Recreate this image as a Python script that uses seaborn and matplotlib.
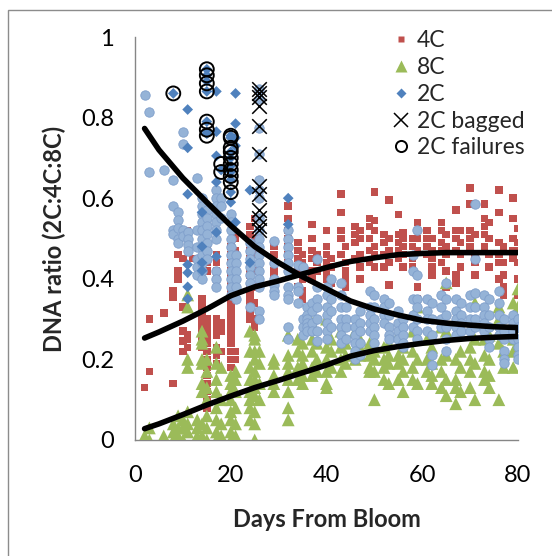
import matplotlib
matplotlib.use("Agg")
import matplotlib.pyplot as plt
from matplotlib.lines import Line2D
from matplotlib.patches import Rectangle
import seaborn as sns
import pandas as pd

# ---------------- data ----------------
c4 = {2: [0.13], 3: [0.30, 0.17], 6: [0.315], 8: [0.14, 0.37, 0.355],
      9: [0.46, 0.42, 0.40], 10: [0.45, 0.33, 0.27, 0.245, 0.22],
      11: [0.52, 0.26, 0.25, 0.23], 12: [0.45],
      14: [0.35, 0.33, 0.31, 0.29, 0.27, 0.25, 0.23],
      15: [0.48, 0.46, 0.44, 0.42, 0.30, 0.28, 0.26, 0.24, 0.22, 0.20, 0.18, 0.16, 0.14, 0.12, 0.10, 0.08],
      17: [0.46, 0.44, 0.42, 0.40, 0.30, 0.28, 0.26, 0.23, 0.21, 0.19],
      18: [0.29, 0.27, 0.22],
      20: [0.48, 0.46, 0.44, 0.42, 0.40, 0.38, 0.36, 0.34, 0.32, 0.30, 0.28, 0.26, 0.24, 0.22, 0.20, 0.18],
      21: [0.51, 0.50, 0.47, 0.44, 0.22, 0.20],
      24: [0.53, 0.51, 0.49, 0.47, 0.45, 0.43, 0.41, 0.38, 0.36, 0.34, 0.32, 0.30],
      25: [0.55, 0.50, 0.46, 0.42, 0.38, 0.34, 0.30, 0.28],
      29: [0.48, 0.46, 0.44, 0.42, 0.40],
      32: [0.58, 0.55, 0.52, 0.50, 0.48, 0.46, 0.44],
      34: [0.49, 0.47, 0.45, 0.42, 0.38], 35: [0.46, 0.44, 0.40, 0.37, 0.35],
      37: [0.535, 0.50, 0.47, 0.45, 0.42, 0.40], 38: [0.46, 0.44, 0.42],
      40: [0.52, 0.48, 0.46, 0.44, 0.42, 0.40], 41: [0.45, 0.43, 0.39],
      43: [0.61, 0.565, 0.52, 0.50, 0.46], 44: [0.48, 0.44, 0.42, 0.40, 0.38],
      46: [0.53, 0.51, 0.49, 0.45], 47: [0.52, 0.50, 0.46, 0.43, 0.40],
      49: [0.55, 0.53, 0.50, 0.47, 0.44], 50: [0.615, 0.545, 0.52, 0.48, 0.46, 0.43],
      52: [0.51, 0.49, 0.46, 0.43], 53: [0.595, 0.50, 0.47, 0.44, 0.385],
      55: [0.56, 0.51, 0.49, 0.47, 0.45], 56: [0.515, 0.50, 0.48, 0.46, 0.43],
      58: [0.50, 0.48, 0.45, 0.43], 59: [0.54, 0.52, 0.50, 0.47, 0.38, 0.35],
      61: [0.52, 0.50, 0.48, 0.46], 62: [0.50, 0.47, 0.45, 0.43, 0.41],
      64: [0.54, 0.52, 0.49, 0.47, 0.44], 65: [0.51, 0.48, 0.46, 0.42, 0.38],
      67: [0.57, 0.52, 0.50, 0.47, 0.41, 0.39], 68: [0.52, 0.49, 0.46, 0.43],
      70: [0.625, 0.585, 0.52, 0.50, 0.48], 71: [0.51, 0.46, 0.44, 0.41],
      73: [0.585, 0.55, 0.53, 0.51, 0.48], 74: [0.54, 0.50, 0.46, 0.43],
      76: [0.62, 0.565, 0.49, 0.46, 0.44, 0.40], 77: [0.48, 0.44, 0.41, 0.38, 0.36],
      79: [0.60, 0.55, 0.50, 0.47, 0.45], 80: [0.525, 0.49, 0.47, 0.44, 0.40, 0.36]}

c8 = {2: [0.0, 0.01], 3: [0.03, 0.0], 6: [0.01], 8: [0.0, 0.04, 0.02],
      9: [0.06, 0.03, 0.01], 10: [0.05, 0.03, 0.0],
      11: [0.36, 0.33, 0.20, 0.18, 0.07, 0.04, 0.02], 13: [0.05, 0.03, 0.01],
      14: [0.27, 0.25, 0.24, 0.20, 0.19, 0.14, 0.12, 0.04, 0.01],
      15: [0.20, 0.17, 0.13, 0.10, 0.06, 0.03, 0.0],
      17: [0.23, 0.19, 0.15, 0.12, 0.08, 0.05, 0.02, 0.0],
      18: [0.18, 0.10, 0.04, 0.01],
      20: [0.16, 0.14, 0.12, 0.10, 0.07, 0.05, 0.02, 0.0],
      21: [0.17, 0.15, 0.12, 0.08, 0.04, 0.01],
      24: [0.27, 0.22, 0.18, 0.15, 0.12, 0.10, 0.08, 0.05],
      25: [0.26, 0.25, 0.22, 0.20, 0.17, 0.15, 0.13, 0.11, 0.07, 0.04, 0.0],
      26: [0.22, 0.19, 0.14, 0.10],
      29: [0.20, 0.19, 0.16, 0.14, 0.12],
      32: [0.26, 0.21, 0.19, 0.17, 0.15, 0.12, 0.08, 0.05],
      34: [0.25, 0.22, 0.18, 0.15], 35: [0.24, 0.21, 0.19, 0.16, 0.14],
      37: [0.29, 0.25, 0.22, 0.18, 0.16], 38: [0.24, 0.20, 0.17],
      40: [0.30, 0.23, 0.20, 0.17, 0.14, 0.13], 41: [0.25, 0.22, 0.18],
      43: [0.27, 0.23, 0.20, 0.17], 44: [0.24, 0.21, 0.19],
      46: [0.27, 0.22, 0.20], 47: [0.25, 0.23, 0.21],
      49: [0.24, 0.21, 0.18, 0.17], 50: [0.22, 0.20, 0.17, 0.10],
      52: [0.23, 0.20, 0.18, 0.15], 53: [0.24, 0.21, 0.19, 0.14],
      55: [0.26, 0.21, 0.19, 0.15], 56: [0.23, 0.20, 0.17, 0.12],
      58: [0.27, 0.22, 0.18, 0.15], 59: [0.33, 0.25, 0.20, 0.14],
      61: [0.25, 0.20, 0.17], 62: [0.23, 0.19, 0.16, 0.14],
      64: [0.28, 0.20, 0.17, 0.13], 65: [0.39, 0.27, 0.21, 0.15, 0.11],
      67: [0.20, 0.15, 0.13, 0.09], 68: [0.22, 0.18, 0.12],
      70: [0.23, 0.20, 0.17, 0.13], 71: [0.34, 0.25, 0.19, 0.10],
      73: [0.25, 0.21, 0.17, 0.15], 74: [0.26, 0.20, 0.16, 0.13],
      76: [0.33, 0.30, 0.24, 0.10], 77: [0.27, 0.22, 0.18],
      79: [0.34, 0.25, 0.22, 0.18], 80: [0.375, 0.33, 0.27, 0.24]}

c2_light = {2: [0.855], 3: [0.815, 0.665], 6: [0.67], 8: [0.645, 0.58, 0.52, 0.51],
            9: [0.565, 0.545, 0.525, 0.50, 0.49], 10: [0.765, 0.735, 0.52, 0.505],
            11: [0.515, 0.50, 0.485, 0.47], 13: [0.65, 0.52, 0.48, 0.45, 0.43, 0.41],
            14: [0.60, 0.58, 0.56, 0.54, 0.52, 0.50, 0.48, 0.46, 0.44, 0.42, 0.40],
            15: [0.57, 0.55, 0.53, 0.51, 0.49, 0.47, 0.45],
            17: [0.62, 0.60, 0.58, 0.56, 0.54, 0.52, 0.50, 0.42, 0.40, 0.38],
            18: [0.60, 0.58, 0.55],
            20: [0.56, 0.54, 0.52, 0.50, 0.48, 0.46, 0.44, 0.42, 0.40, 0.38, 0.36],
            21: [0.46, 0.44, 0.42, 0.40, 0.38, 0.35],
            24: [0.49, 0.47, 0.45, 0.43, 0.41, 0.39, 0.33],
            26: [0.87, 0.845, 0.775, 0.71, 0.645, 0.62, 0.60, 0.55, 0.52, 0.50, 0.48, 0.46,
                 0.44, 0.42, 0.40, 0.38, 0.32, 0.30],
            29: [0.495, 0.44, 0.40, 0.385, 0.37, 0.36],
            32: [0.52, 0.50, 0.48, 0.46, 0.44, 0.42, 0.38, 0.36, 0.35, 0.28, 0.25],
            34: [0.435, 0.38, 0.37, 0.34], 35: [0.43, 0.30, 0.28, 0.26],
            36: [0.33, 0.31, 0.30, 0.29, 0.28, 0.27], 37: [0.34, 0.32, 0.29, 0.27],
            38: [0.45, 0.38, 0.35, 0.33, 0.30, 0.27, 0.245],
            40: [0.38, 0.36, 0.33, 0.31, 0.29, 0.27, 0.25], 41: [0.40, 0.35, 0.32, 0.28],
            43: [0.39, 0.36, 0.33, 0.30, 0.28, 0.26, 0.24], 44: [0.33, 0.30, 0.28, 0.25],
            46: [0.30, 0.28, 0.26, 0.24, 0.22, 0.20], 47: [0.32, 0.29, 0.27, 0.24, 0.21],
            49: [0.37, 0.33, 0.31, 0.29, 0.27], 50: [0.36, 0.33, 0.30, 0.28, 0.26, 0.24],
            52: [0.35, 0.33, 0.31, 0.29], 53: [0.34, 0.31, 0.28, 0.26, 0.25],
            55: [0.32, 0.29, 0.27, 0.25], 56: [0.30, 0.28, 0.26, 0.24, 0.23],
            58: [0.46, 0.42, 0.35, 0.31, 0.28], 59: [0.52, 0.41, 0.35, 0.33, 0.30, 0.27, 0.25],
            61: [0.35, 0.32, 0.30, 0.27], 62: [0.34, 0.30, 0.26, 0.21, 0.185],
            64: [0.36, 0.33, 0.30, 0.28], 65: [0.39, 0.35, 0.31, 0.28, 0.25, 0.22],
            67: [0.35, 0.32, 0.30, 0.28, 0.26], 68: [0.34, 0.31, 0.29, 0.27],
            70: [0.36, 0.33, 0.30, 0.27], 71: [0.585, 0.45, 0.365, 0.33, 0.30, 0.28],
            73: [0.36, 0.33, 0.31, 0.29, 0.27], 74: [0.35, 0.31, 0.28, 0.25, 0.23],
            76: [0.37, 0.34, 0.31, 0.28, 0.26], 77: [0.30, 0.27, 0.25, 0.22, 0.20, 0.19],
            79: [0.31, 0.29, 0.27, 0.25], 80: [0.30, 0.28, 0.25, 0.23, 0.21, 0.20]}

c2 = {8: [0.86], 11: [0.82, 0.725, 0.61, 0.435, 0.415, 0.38, 0.35],
      14: [0.565, 0.48, 0.44, 0.42],
      15: [0.92, 0.905, 0.89, 0.865, 0.79, 0.765, 0.76],
      17: [0.865, 0.765, 0.705, 0.64, 0.515, 0.455], 18: [0.67],
      20: [0.755, 0.75, 0.715, 0.70, 0.68, 0.665, 0.645, 0.615, 0.59],
      21: [0.86, 0.785, 0.75, 0.73, 0.54], 24: [0.62, 0.44], 32: [0.60, 0.535]}

c2_bagged = {26: [0.87, 0.86, 0.85, 0.83, 0.78, 0.71, 0.63, 0.61, 0.57, 0.55, 0.53, 0.52]}

c2_failures = {8: [0.86], 15: [0.92, 0.905, 0.885, 0.865, 0.79, 0.77, 0.755],
               18: [0.685, 0.665],
               20: [0.755, 0.75, 0.725, 0.715, 0.70, 0.685, 0.67, 0.655, 0.64, 0.615]}

trend_days = [2, 5, 10, 15, 20, 25, 30, 35, 40, 45, 50, 55, 60, 65, 70, 75, 80]
trend_2c = [0.773, 0.72, 0.65, 0.59, 0.532, 0.48, 0.44, 0.405, 0.375, 0.345, 0.325,
            0.31, 0.297, 0.29, 0.285, 0.281, 0.279]
trend_4c = [0.253, 0.268, 0.295, 0.325, 0.358, 0.38, 0.395, 0.412, 0.428, 0.443, 0.452,
            0.46, 0.463, 0.465, 0.465, 0.465, 0.465]
trend_8c = [0.028, 0.04, 0.063, 0.087, 0.109, 0.13, 0.148, 0.167, 0.186, 0.208, 0.222,
            0.232, 0.24, 0.247, 0.252, 0.255, 0.257]

x_ticks = [0, 20, 40, 60, 80]
y_ticks = [0, 0.2, 0.4, 0.6, 0.8, 1]
y_tick_labels = ["0", "0.2", "0.4", "0.6", "0.8", "1"]


def to_frame(d):
    rows = [(day, v) for day, vals in d.items() for v in vals]
    return pd.DataFrame(rows, columns=["day", "ratio"])


# ---------------- figure ----------------
sns.set_style("white")
plt.rcParams["font.family"] = ["Lato", "DejaVu Sans"]

fig = plt.figure(figsize=(5.52, 5.56), dpi=100)
ax = fig.add_axes([135 / 552, 1 - 440 / 556, 383 / 552, 403 / 556])

RED = "#C0504D"
GREEN = "#9BBB59"
BLUE = "#4F81BD"
LIGHT = "#95B3D7"

sns.scatterplot(data=to_frame(c4), x="day", y="ratio", ax=ax, marker="s", s=30,
                color=RED, edgecolor="none", zorder=2, legend=False)
sns.scatterplot(data=to_frame(c8), x="day", y="ratio", ax=ax, marker="^", s=85,
                color=GREEN, edgecolor="none", zorder=3, legend=False)
sns.scatterplot(data=to_frame(c2_light), x="day", y="ratio", ax=ax, marker="o", s=46,
                color=LIGHT, edgecolor="#7F9FCB", linewidth=0.6, zorder=4, legend=False)
sns.scatterplot(data=to_frame(c2), x="day", y="ratio", ax=ax, marker="D", s=30,
                color=BLUE, edgecolor="none", zorder=5, legend=False)
sns.scatterplot(data=to_frame(c2_bagged), x="day", y="ratio", ax=ax, marker="x", s=110,
                color="black", linewidth=1.1, zorder=6, legend=False)
fdf = to_frame(c2_failures)
ax.scatter(fdf["day"], fdf["ratio"], marker="o", s=100, facecolors="none",
           edgecolors="black", linewidths=1.4, zorder=7)

# trend lines: 2C forward then 8C back (joined at day 80), 4C separately
path_days = trend_days + trend_days[::-1]
path_vals = trend_2c + trend_8c[::-1]
tdf = pd.DataFrame({"day": path_days, "ratio": path_vals})
sns.lineplot(data=tdf, x="day", y="ratio", ax=ax, sort=False, estimator=None,
             color="black", linewidth=4, zorder=8)
sns.lineplot(x=trend_days, y=trend_4c, ax=ax, sort=False, estimator=None,
             color="black", linewidth=4, zorder=8)

ax.set_xlim(0, 80)
ax.set_ylim(0, 1)
ax.set_xticks(x_ticks)
ax.set_yticks(y_ticks)
ax.set_yticklabels(y_tick_labels)
for side in ["top", "right"]:
    ax.spines[side].set_visible(False)
for side in ["left", "bottom"]:
    ax.spines[side].set_color("#868686")
    ax.spines[side].set_linewidth(1.0)
ax.tick_params(axis="both", direction="out", length=5, width=1.0, color="#868686",
               labelsize=17, labelcolor="black")
ax.tick_params(axis="y", pad=10)
ax.tick_params(axis="x", pad=13)
ax.set_xlabel("Days From Bloom", fontsize=17, fontweight="bold", labelpad=16)
ax.set_ylabel("DNA ratio (2C:4C:8C)", fontsize=17, fontweight="bold", labelpad=11)

handles = [
    Line2D([], [], linestyle="none", marker="s", markersize=5, color=RED, markeredgecolor="none"),
    Line2D([], [], linestyle="none", marker="^", markersize=8, color=GREEN, markeredgecolor="none"),
    Line2D([], [], linestyle="none", marker="D", markersize=5, color=BLUE, markeredgecolor="none"),
    Line2D([], [], linestyle="none", marker="x", markersize=10, color="black", markeredgewidth=1.1),
    Line2D([], [], linestyle="none", marker="o", markersize=8, markerfacecolor="none",
           markeredgecolor="black", markeredgewidth=1.4),
]
labels = ["4C", "8C", "2C", "2C bagged", "2C failures"]
fig.legend(handles, labels, loc="upper left", bbox_to_anchor=(380 / 552, 1 - 19 / 556),
           frameon=False, fontsize=16.5, handlelength=0.8, handletextpad=0.3,
           labelspacing=0.25, borderpad=0)

fig.add_artist(Rectangle((8 / 552, -0.05), 1.2, 1 - 10 / 556 + 0.05,
                         transform=fig.transFigure, fill=False,
                         edgecolor="#8C8C8C", linewidth=1.0, clip_on=False))

fig.savefig("out.png", dpi=100)
